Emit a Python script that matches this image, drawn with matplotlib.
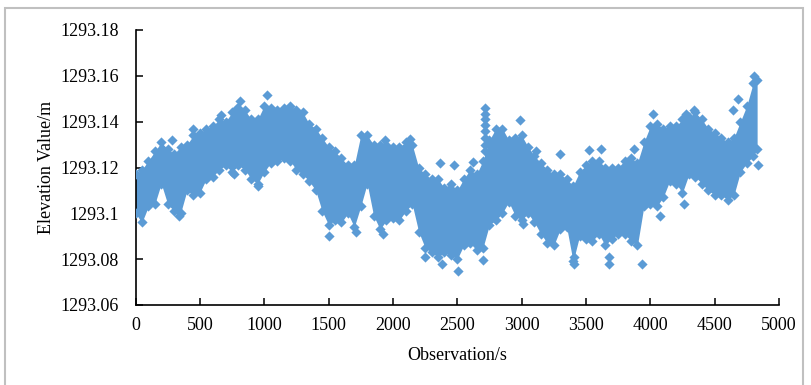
import matplotlib
matplotlib.use("Agg")
import matplotlib.pyplot as plt
from matplotlib.patches import Rectangle
from matplotlib.ticker import FixedLocator, FixedFormatter

# ---- data (elevations given in mm above 1293 m) ----
time_s = list(range(0, 4801, 50)) + [4830]

upper_mm = [117, 119, 123, 127, 131, 128, 126, 129, 130, 134, 135, 137, 138, 141, 140, 144, 146, 145, 141, 141, 147,
            146, 145, 146, 147, 145, 144, 139, 137, 133, 129, 127, 124, 121, 121, 134, 134, 130, 130, 130, 129,
            129, 131, 130, 120, 117, 115, 115, 111, 113, 110, 115, 119, 117, 123, 132, 137, 137, 132, 133, 134,
            129, 125, 122, 119, 117, 117, 115, 112, 118, 121, 123, 123, 120, 120, 120, 123, 124, 122, 131, 138,
            139, 137, 138, 138, 141, 142, 144, 141, 137, 135, 133, 131, 133, 140, 147, 157, 158]

lower_mm = [100, 96, 103, 104, 113, 104, 101, 100, 110, 108, 109, 115, 116, 119, 121, 118, 121, 119, 115, 113, 118,
            122, 123, 124, 123, 119, 117, 114, 110, 101, 95, 97, 96, 100, 94, 103, 113, 99, 93, 97, 98,
            97, 101, 104, 92, 85, 83, 81, 83, 82, 80, 86, 87, 84, 85, 95, 97, 100, 105, 99, 97,
            100, 96, 91, 87, 86, 93, 94, 79, 90, 89, 88, 91, 86, 89, 91, 91, 88, 86, 103, 104,
            103, 107, 114, 113, 109, 117, 116, 113, 110, 108, 108, 106, 108, 118, 122, 125, 128]

outlier_t = [281, 340, 449, 661, 764, 785, 811, 953, 1018, 1502, 1716, 1923, 1937, 2135, 2252, 2363, 2381,
             2474, 2505, 2622, 2699, 2712, 2712, 2712, 2712, 2712, 2712, 2712, 2712, 2984, 3009, 3113, 3302,
             3410, 3410, 3527, 3617, 3682, 3682, 3876, 3936, 4018, 4075, 4264, 4277, 4342, 4639, 4678, 4807, 4838]
outlier_mm = [132, 99, 137, 143, 117, 146, 149, 112, 151.5, 90, 92, 91, 132, 132.6, 81, 122, 78,
              121, 75, 122.5, 79.5, 146, 143.5, 141, 138.5, 136, 133, 130, 127, 140.6, 95.5, 127, 126,
              78, 81, 127.5, 128, 78, 81, 128, 78, 143.5, 99, 104, 143.5, 145, 145, 150, 160, 121]

y_ticks = [1293.06, 1293.08, 1293.10, 1293.12, 1293.14, 1293.16, 1293.18]
y_tick_labels = ["1293.06", "1293.08", "1293.1", "1293.12", "1293.14", "1293.16", "1293.18"]
x_ticks = [0, 500, 1000, 1500, 2000, 2500, 3000, 3500, 4000, 4500, 5000]

BASE = 1293.0
upper = [BASE + v / 1000 for v in upper_mm]
lower = [BASE + v / 1000 for v in lower_mm]
outlier = [BASE + v / 1000 for v in outlier_mm]

# ---- drawing ----
plt.rcParams["font.family"] = ["Liberation Serif", "DejaVu Serif"]
color = "#5B9BD5"

fig = plt.figure(figsize=(8.11, 3.85), dpi=100)
W, H = 811, 385
ax = fig.add_axes([135.5 / W, 1 - 305 / H, (779 - 135.5) / W, (305 - 30) / H])

ax.fill_between(time_s, lower, upper, color=color, linewidth=0, zorder=2)
ax.scatter(time_s, upper, marker="D", s=27, color=color, linewidths=0, zorder=3)
ax.scatter(time_s, lower, marker="D", s=27, color=color, linewidths=0, zorder=3)
ax.scatter(outlier_t, outlier, marker="D", s=27, color=color, linewidths=0, zorder=3)

ax.set_xlim(0, 5000)
ax.set_ylim(1293.06, 1293.18)
ax.yaxis.set_major_locator(FixedLocator(y_ticks))
ax.yaxis.set_major_formatter(FixedFormatter(y_tick_labels))
ax.set_xticks(x_ticks)
ax.set_xticklabels([str(v) for v in x_ticks])

for s in ("top", "right"):
    ax.spines[s].set_visible(False)
for s in ("left", "bottom"):
    ax.spines[s].set_linewidth(1.2)
    ax.spines[s].set_color("black")

ax.tick_params(axis="both", direction="in", length=5, width=1.1, labelsize=13, colors="black")
ax.tick_params(axis="y", pad=12)
ax.tick_params(axis="x", pad=9)

ax.set_xlabel("Observation/s", fontsize=13, labelpad=9)
ax.set_ylabel("Elevation Value/m", fontsize=13, labelpad=4)

# outer light-grey frame of the chart
fig.patches.append(Rectangle((5 / W, -0.05), (803 - 5) / W, (377) / H + 0.05,
                             transform=fig.transFigure, fill=False,
                             edgecolor="#C0C0C0", linewidth=1.5))

fig.savefig("out.png", dpi=100)
